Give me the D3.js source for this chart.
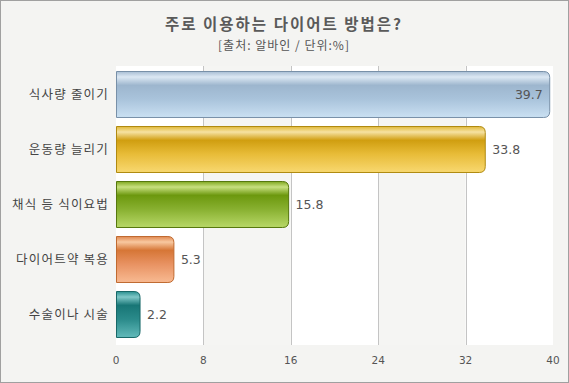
<!DOCTYPE html>
<html><head><meta charset="utf-8">
<script src="https://cdn.jsdelivr.net/npm/d3@7"></script>
<style>body{margin:0;background:#fff}svg{display:block}</style>
</head><body>
<svg id="c" width="569" height="383"></svg>
<script>
const title = "주로 이용하는 다이어트 방법은?";
const subtitle = "[출처: 알바인 / 단위:%]";
const categories = ["식사량 줄이기","운동량 늘리기","채식 등 식이요법","다이어트약 복용","수술이나 시술"];
const values = [39.7, 33.8, 15.8, 5.3, 2.2];
const ticks = [0, 8, 16, 24, 32, 40];
const palettes = [
  {b:"#7890a8", s:["#a8bed4","#dce8f3","#9db6ce","#a9c3db","#cae0f2"]},
  {b:"#b08a10", s:["#e0b838","#f6e2a2","#d09e10","#e8bc38","#f8d870"]},
  {b:"#56780e", s:["#80a820","#c8e080","#6c980e","#88b030","#b8d868"]},
  {b:"#c06a30", s:["#e08850","#f8c8a0","#d67636","#e89262","#f8ba92"]},
  {b:"#186868", s:["#2a9090","#80c8c8","#187676","#2a8a8a","#62baba"]}
];
const offs = [0, 0.12, 0.3, 0.6, 1];

const svg = d3.select("#c");
svg.append("rect").attr("x",0.5).attr("y",0.5).attr("width",568).attr("height",382)
  .attr("fill","#f4f4f2").attr("stroke","#a0a0a0");

const L=116, R=553, T=66, B=345;
const x = d3.scaleLinear().domain([0,40]).range([L,R]);
const y = d3.scaleBand().domain(categories).range([T,342]).paddingInner(0.164).paddingOuter(0.091);

svg.append("rect").attr("x",L).attr("y",T).attr("width",R-L).attr("height",B-T).attr("fill","#ffffff");
for (let i=0;i<ticks.length-1;i++){
  if (i%2===1) svg.append("rect").attr("x",x(ticks[i])).attr("y",T).attr("width",x(ticks[i+1])-x(ticks[i])).attr("height",B-T).attr("fill","#f5f5f3");
}
svg.selectAll(".grid").data(ticks.slice(1,-1)).enter().append("line")
  .attr("x1",d=>Math.round(x(d))+0.5).attr("x2",d=>Math.round(x(d))+0.5).attr("y1",T).attr("y2",B)
  .attr("stroke","#c4c4c4");

const defs = svg.append("defs");
palettes.forEach((p,i)=>{
  const g = defs.append("linearGradient").attr("id","g"+i).attr("x1",0).attr("y1",0).attr("x2",0).attr("y2",1);
  p.s.forEach((c,j)=>g.append("stop").attr("offset",offs[j]).attr("stop-color",c));
});

function barPath(x0,x1,y0,h){
  const r=Math.min(6,(x1-x0));
  return `M${x0},${y0}H${x1-r}Q${x1},${y0} ${x1},${y0+r}V${y0+h-r}Q${x1},${y0+h} ${x1-r},${y0+h}H${x0}Z`;
}
categories.forEach((c,i)=>{
  const y0=y(c)+0.5, h=y.bandwidth();
  svg.append("path").attr("d",barPath(x(0)+0.5,x(values[i]),y0,h))
    .attr("fill","url(#g"+i+")").attr("stroke",palettes[i].b).attr("stroke-width",1);
  const inside = values[i] > 36;
  svg.append("text").attr("x", inside ? x(values[i])-7 : x(values[i])+7)
    .attr("y", y(c)+h/2+5).attr("text-anchor", inside?"end":"start")
    .attr("font-family","Verdana, 'DejaVu Sans', sans-serif").attr("font-size",12.5).attr("fill","#555")
    .text(values[i].toFixed(1));
  svg.append("text").attr("x",109).attr("y",y(c)+h/2+5).attr("text-anchor","end")
    .attr("font-family","'Noto Sans CJK KR', sans-serif").attr("font-size",12.5).attr("letter-spacing",1.2).attr("fill","#444")
    .text(c);
});

svg.selectAll(".tk").data(ticks).enter().append("text")
  .attr("x",d=>x(d)).attr("y",364).attr("text-anchor","middle")
  .attr("font-family","Verdana, 'DejaVu Sans', sans-serif").attr("font-size",10.5).attr("fill","#555")
  .text(d=>d);

svg.append("text").attr("x",284).attr("y",30).attr("text-anchor","middle")
  .attr("font-family","'Noto Sans CJK KR', sans-serif").attr("font-weight","bold").attr("font-size",15.5).attr("letter-spacing",2).attr("fill","#5a5a5a").text(title);
svg.append("text").attr("x",284).attr("y",50).attr("text-anchor","middle")
  .attr("font-family","'Noto Sans CJK KR', sans-serif").attr("font-size",12).attr("letter-spacing",1).attr("fill","#555").text(subtitle);
</script>
</body></html>
